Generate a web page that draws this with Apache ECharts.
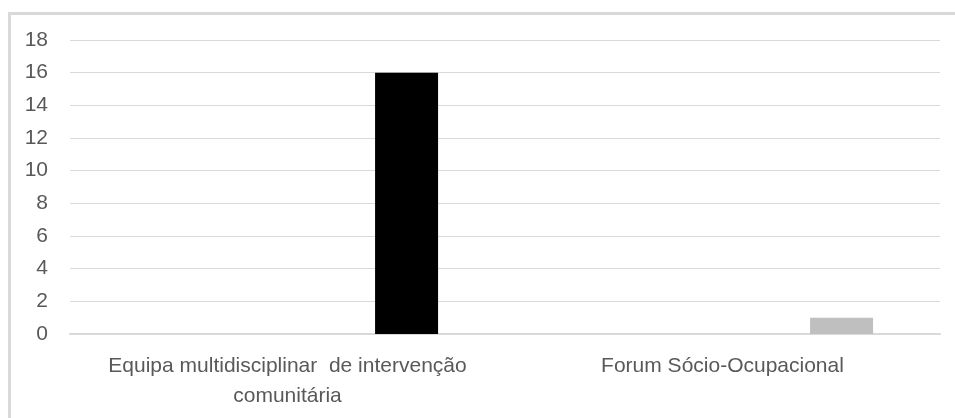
<!DOCTYPE html>
<html>
<head>
<meta charset="utf-8">
<script src="https://cdn.jsdelivr.net/npm/echarts@6/dist/echarts.min.js"></script>
<style>html,body{margin:0;padding:0;background:#fff}#c{width:955px;height:418px}</style>
</head>
<body>
<div id="c"></div>
<script>
var categories = ['Equipa multidisciplinar  de intervenção\ncomunitária', 'Forum Sócio-Ocupacional'];
var seriesA = [null, null];
var seriesB = [null, null];
var seriesC = [16, 1];
var barColors = ['#000000', '#bfbfbf'];
var yTicks = {min: 0, max: 18, interval: 2};

var chart = echarts.init(document.getElementById('c'));
var font = '"Liberation Sans", Arial, sans-serif';
chart.setOption({
  animation: false,
  graphic: [{
    type: 'rect', left: 7, top: 11, silent: true,
    shape: {x: 0, y: 0, width: 1200, height: 800},
    style: {fill: 'none', stroke: '#d9d9d9', lineWidth: 3}
  }],
  grid: {left: 70, right: 15, top: 40, bottom: 84, containLabel: false},
  xAxis: {
    type: 'category', data: categories,
    axisLine: {show: true, lineStyle: {color: '#d9d9d9', width: 2}},
    axisTick: {show: false},
    axisLabel: {color: '#595959', fontSize: 21, fontFamily: font, margin: 17, lineHeight: 30, interval: 0}
  },
  yAxis: {
    type: 'value', min: yTicks.min, max: yTicks.max, interval: yTicks.interval,
    axisLine: {show: false}, axisTick: {show: false},
    splitLine: {lineStyle: {color: '#d9d9d9', width: 1}},
    axisLabel: {color: '#595959', fontSize: 21, fontFamily: font, margin: 22}
  },
  series: [
    {type: 'bar', data: seriesA, barWidth: 63, barGap: '89%'},
    {type: 'bar', data: seriesB, barWidth: 63, barGap: '89%'},
    {type: 'bar', data: seriesC.map(function (v, i) { return {value: v, itemStyle: {color: barColors[i]}}; }), barWidth: 63, barGap: '89%'}
  ]
});
</script>
</body>
</html>
